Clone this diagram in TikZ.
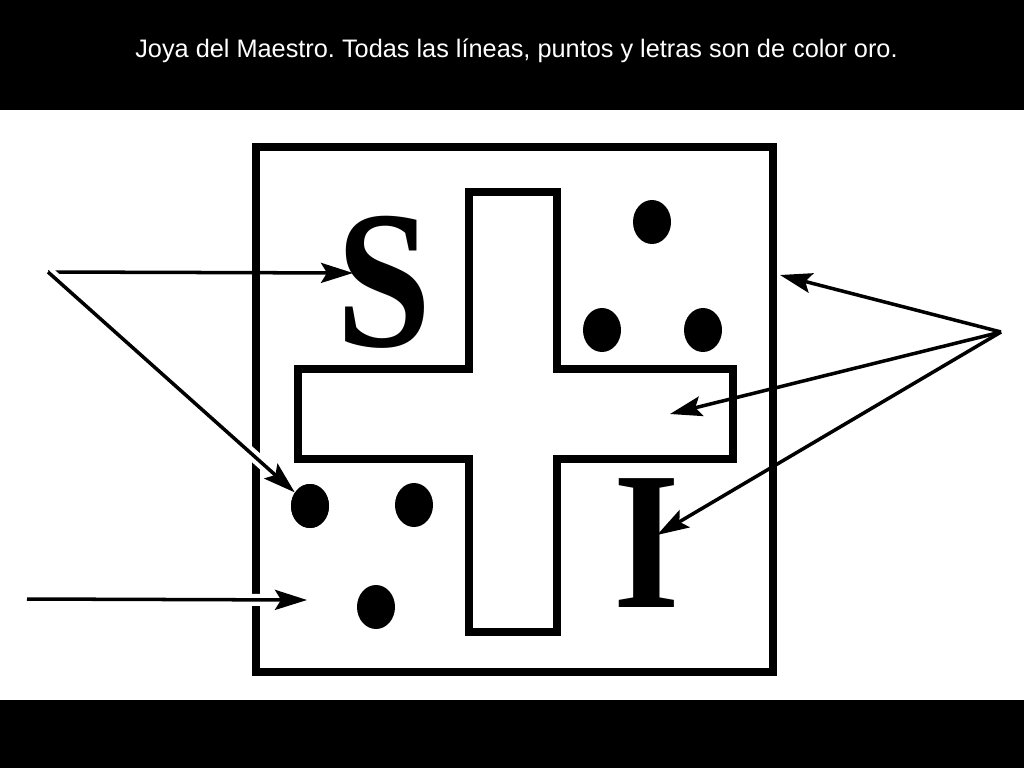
\documentclass[tikz,border=0pt]{standalone}
\usepackage{fontspec}
\setmainfont{Liberation Serif}
\newfontfamily\fuentetitulo{Liberation Sans}
\usetikzlibrary{arrows.meta,shapes.geometric,positioning}
\frenchspacing
\tikzstyle{punto}=[ellipse,fill=black,inner sep=0pt,minimum width=9.5mm,minimum height=11mm]
\tikzstyle{letra}=[anchor=base,inner sep=0pt,xscale=0.87,font=\fontsize{140}{140}\selectfont\bfseries]
\tikzstyle{flecha}=[line width=2.5pt,-{Stealth[length=8mm,width=5mm,inset=1.5mm]}]
\tikzstyle{halo}=[preaction={draw=white,line width=8.5pt,-}]
\tikzset{
	marco/.style={line width=6pt,miter limit=2},
	cruz/.style={line width=5.7pt,miter limit=2}
}

\begin{document}
\begin{tikzpicture}[x=0.25mm,y=-0.25mm]
    \useasboundingbox (0,0) rectangle (1024,768);
    \fill[black] (0,0) rectangle (1024,768);
    \fill[white] (0,110) rectangle (1024,700);
    \node (titulo) [anchor=base,text=white,font=\fuentetitulo\fontsize{18}{22}\selectfont] at (516.5,57)
        {Joya del Maestro. Todas las líneas, puntos y letras son de color oro.};

    % joya
    \draw[marco] (256,147) rectangle (773,672);
    \draw[cruz] (469,192) -- (557,192) -- (557,369) -- (733,369) -- (733,459) -- (557,459)
        -- (557,632) -- (469,632) -- (469,459) -- (298,459) -- (298,369) -- (469,369) -- cycle;

    % puntos
    \node (p1) [punto] at (652,222) {};
    \node (p2) [punto] at (602,330) {};
    \node (p3) [punto] at (703,330) {};
    \node (p4) [punto] at (310,506) {};
    \node (p5) [punto] at (414,505) {};
    \node (p6) [punto] at (376,607) {};
    \node (S) [letra] at (384,346) {S};
    \node (I) [letra] at (647,607) {I};

    % flechas
    \coordinate (izq) at (48,272);
    \coordinate (abajo) at (27,599);
    \coordinate (der) at (1001,332);
    \coordinate (aS) at (353,273);
    \coordinate (aBajo) at (307,600);
    \coordinate (aMarco) at (780,275);
    \coordinate (aCruz) at (670,414);
    \coordinate (aI) at (657,535);
    \draw[flecha] (izq) -- (aS);
    \draw[flecha,halo] (izq) -- (p4);
    \draw[flecha,halo] (abajo) -- (aBajo);
    \draw[flecha] (der) -- (aMarco);
    \draw[flecha] (der) -- (aCruz);
    \draw[flecha] (der) -- (aI);
    \node [punto] at (p4) {};
\end{tikzpicture}
\end{document}
